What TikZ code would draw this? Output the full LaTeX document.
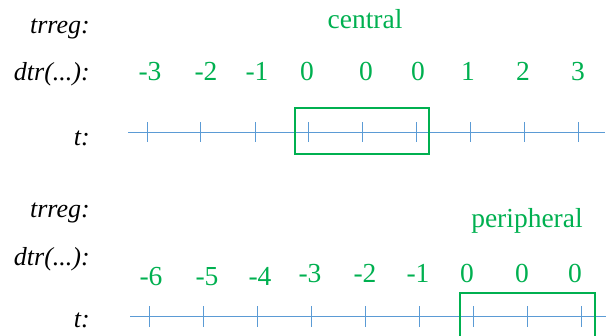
\documentclass[tikz,border=0pt]{standalone}
\usepackage{fontspec}
\setmainfont{Liberation Serif}
\definecolor{grn}{RGB}{0,176,80}
\definecolor{axisblue}{RGB}{91,155,213}
\begin{document}
\begin{tikzpicture}[x=1pt,y=-1pt,
  lbl/.style={anchor=base east,inner sep=0pt,font=\fontsize{26}{26}\selectfont\itshape},
  num/.style={anchor=base,inner sep=0pt,text=grn,font=\fontsize{27.5}{27.5}\selectfont},
  axisline/.style={draw=axisblue,line width=1pt},
  tick/.style={draw=axisblue,line width=1pt},
  selbox/.style={draw=grn,line width=2.6pt}]
\useasboundingbox (0,0) rectangle (615,335);
\clip (0,0) rectangle (615,335);
% ---------- top ----------
\node[lbl] (l1) at (90,33) {trreg:};
\node[lbl] (l2) at (90,80) {dtr(...):};
\node[lbl] (l3) at (90,145) {t:};
\node[num] (central) at (365,28) {central};
\coordinate (a1s) at (128,132);
\coordinate (a1e) at (605,132);
\draw[axisline] (a1s) -- (a1e);
\foreach \x [count=\i] in {147,200,255,308,362,416,470,524,578}{
  \coordinate (t\i) at (\x,132);
  \draw[tick] (\x,122) -- (\x,142);
}
\foreach \x/\v [count=\i] in {150/-3,206/-2,257/-1,307/0,366/0,418/0,468/1,523/2,578/3}{
  \node[num] (n\i) at (\x,80) {\v};
}
\draw[selbox] (295,108) rectangle (429,154);
% ---------- bottom ----------
\node[lbl] (m1) at (90,217) {trreg:};
\node[lbl] (m2) at (90,265) {dtr(...):};
\node[lbl] (m3) at (90,327) {t:};
\node[num] (periph) at (527,227) {peripheral};
\coordinate (a2s) at (130,316);
\coordinate (a2e) at (606,316);
\draw[axisline] (a2s) -- (a2e);
\foreach \x [count=\i] in {149,203,257,311,365,419,473,527,581}{
  \coordinate (u\i) at (\x,316);
  \draw[tick] (\x,306) -- (\x,327);
}
\foreach \x/\v/\b [count=\i] in {151/-6/285,207/-5/285,260/-4/285,310/-3/282,365/-2/282,418/-1/282,467/0/282,522/0/282,575/0/282}{
  \node[num] (p\i) at (\x,\b) {\v};
}
\draw[selbox] (460,293) rectangle (595,345);
\end{tikzpicture}
\end{document}
